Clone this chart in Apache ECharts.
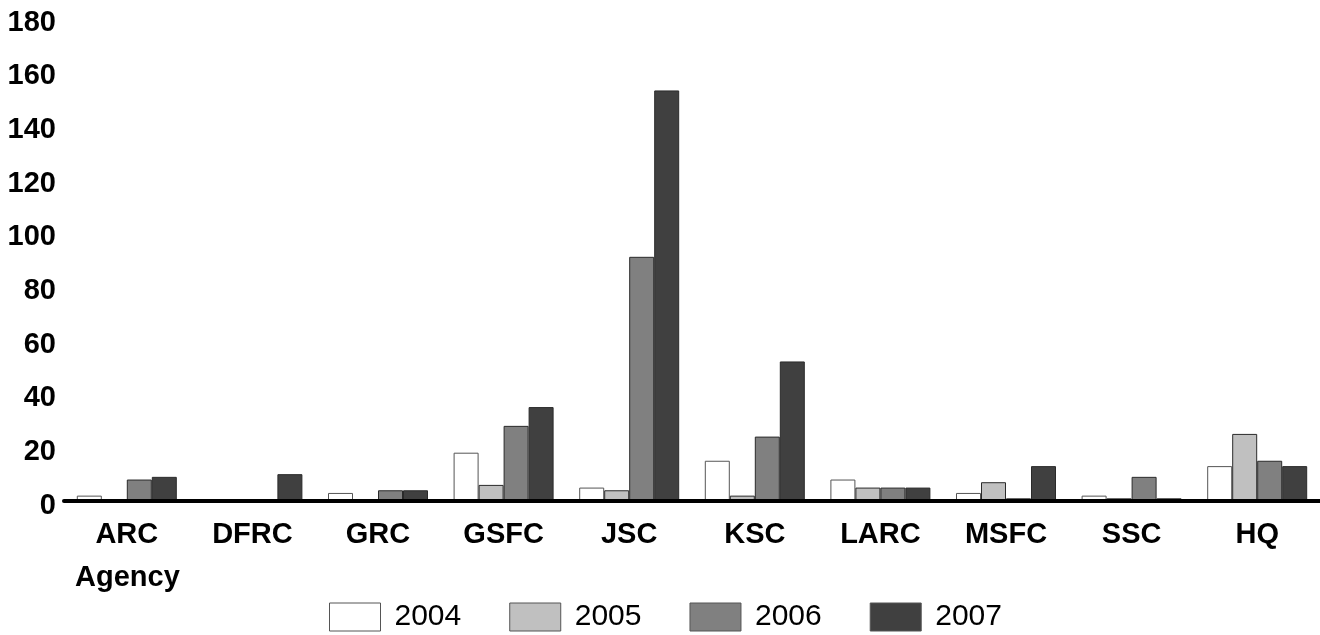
<!DOCTYPE html>
<html>
<head>
<meta charset="utf-8">
<script src="https://cdn.jsdelivr.net/npm/echarts@6/dist/echarts.min.js"></script>
<style>
html,body{margin:0;padding:0;background:#fff;}
#chart{width:1320px;height:635px;}
</style>
</head>
<body>
<div id="chart"></div>
<script>
var categories = ['ARC','DFRC','GRC','GSFC','JSC','KSC','LARC','MSFC','SSC','HQ'];
var years = ['2004','2005','2006','2007'];
var v2004 = [2, 0, 3, 18, 5, 15, 8, 3, 2, 13];
var v2005 = [0, 0, 0, 6, 4, 2, 5, 7, 1, 25];
var v2006 = [8, 0, 4, 28, 91, 24, 5, 1, 9, 15];
var v2007 = [9, 10, 4, 35, 153, 52, 5, 13, 1, 13];
var yTicks = {min: 0, max: 180, interval: 20};
var colors = ['#ffffff', '#c0c0c0', '#808080', '#404040'];

var FONT = "'Liberation Sans', Arial, Helvetica, sans-serif";
var chart = echarts.init(document.getElementById('chart'));
var seriesData = [v2004, v2005, v2006, v2007];
var series = years.map(function (y, i) {
  return {
    name: y,
    type: 'bar',
    data: seriesData[i],
    barWidth: 25,
    barGap: '0%',
    itemStyle: {color: colors[i], borderColor: i === 0 ? '#555' : '#2a2a2a', borderWidth: 1},
    emphasis: {disabled: true}
  };
});
chart.setOption({
  animation: false,
  backgroundColor: '#fff',
  grid: {left: 64, right: -6, top: 18, bottom: 134},
  title: {
    text: 'Agency', left: 70, top: 558,
    textStyle: {fontFamily: FONT, fontSize: 29, fontWeight: 'bold', color: '#000'}
  },
  legend: {
    data: years,
    left: 329, top: 602, padding: 0,
    itemWidth: 51, itemHeight: 28, itemGap: 48,
    icon: 'rect',
    itemStyle: {borderColor: '#555', borderWidth: 1},
    textStyle: {fontFamily: FONT, fontSize: 30, color: '#000', width: 66, padding: [2,0,0,9]}
  },
  xAxis: {
    type: 'category',
    data: categories,
    z: 10,
    axisLine: {lineStyle: {color: '#000', width: 4}},
    axisTick: {show: false},
    axisLabel: {fontFamily: FONT, fontSize: 29, fontWeight: 'bold', color: '#000', margin: 19}
  },
  yAxis: {
    type: 'value',
    min: yTicks.min, max: yTicks.max, interval: yTicks.interval,
    splitLine: {show: false},
    axisLine: {show: false},
    axisTick: {show: false},
    axisLabel: {
      margin: 8,
      formatter: function (v) { return '{a|' + v + '}'; },
      rich: {a: {fontFamily: FONT, fontSize: 29, fontWeight: 'bold', color: '#000', padding: [9, 0, 0, 0]}}
    }
  },
  series: series
});
</script>
</body>
</html>
